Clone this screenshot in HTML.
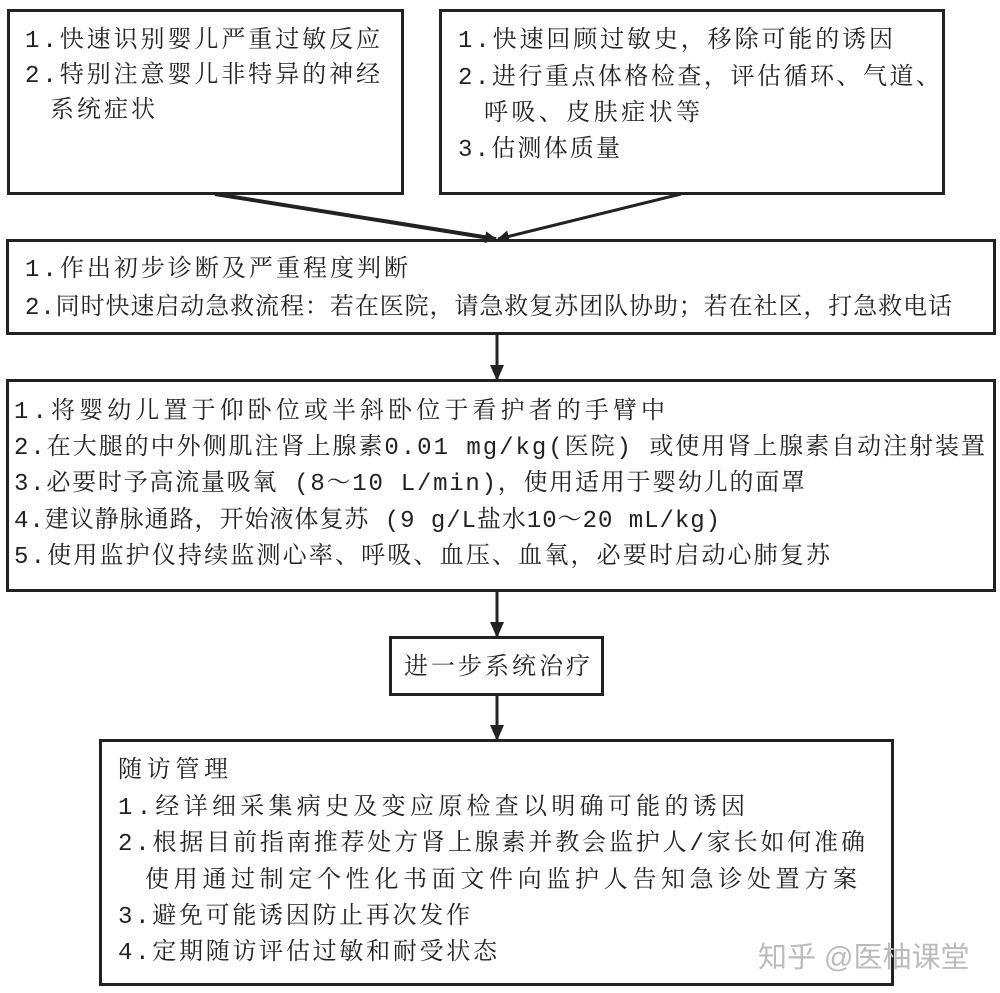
<!DOCTYPE html>
<html><head><meta charset="utf-8"><style>
body{margin:0;width:1000px;height:993px;background:#fff;position:relative;overflow:hidden;}
.b{position:absolute;border:3px solid #222;box-sizing:border-box;}
svg{position:absolute;left:0;top:0;}
text{font-family:"Liberation Mono","Noto Serif CJK SC",serif;font-size:24px;fill:#222;}
</style></head><body>
<div class="b" style="left:7px;top:9px;width:397px;height:186px"></div>
<div class="b" style="left:439px;top:9px;width:506px;height:186px"></div>
<div class="b" style="left:6px;top:239px;width:990px;height:96px"></div>
<div class="b" style="left:6px;top:379px;width:990px;height:213px"></div>
<div class="b" style="left:389px;top:636px;width:215px;height:60px"></div>
<div class="b" style="left:99px;top:739px;width:795px;height:247px"></div>

<svg width="1000" height="993">
<defs><marker id="a" markerWidth="12" markerHeight="12" refX="11" refY="6" orient="auto" markerUnits="userSpaceOnUse"><path d="M0,0 L12,6 L0,12 z" fill="#222"/></marker>
<marker id="v" markerWidth="16" markerHeight="16" refX="15" refY="8" orient="auto" markerUnits="userSpaceOnUse"><path d="M0,1 L16,8 L0,15 z" fill="#222"/></marker></defs>
<g lengthAdjust="spacing">
<text x="25" y="47" textLength="355" lengthAdjust="spacing">1.快速识别婴儿严重过敏反应</text>
<text x="25" y="82" textLength="355" lengthAdjust="spacing">2.特别注意婴儿非特异的神经</text>
<text x="50" y="117" textLength="105" lengthAdjust="spacing">系统症状</text>

<text x="458" y="47" textLength="435" lengthAdjust="spacing">1.快速回顾过敏史，移除可能的诱因</text>
<text x="458" y="84" textLength="482" lengthAdjust="spacing">2.进行重点体格检查，评估循环、气道、</text>
<text x="484" y="120" textLength="216" lengthAdjust="spacing">呼吸、皮肤症状等</text>
<text x="458" y="156" textLength="162" lengthAdjust="spacing">3.估测体质量</text>

<text x="25" y="276" textLength="383" lengthAdjust="spacing">1.作出初步诊断及严重程度判断</text>
<text x="25" y="314" textLength="927" lengthAdjust="spacing">2.同时快速启动急救流程：若在医院，请急救复苏团队协助；若在社区，打急救电话</text>

<text x="14" y="418" textLength="651" lengthAdjust="spacing">1.将婴幼儿置于仰卧位或半斜卧位于看护者的手臂中</text>
<text x="14" y="454" textLength="971" lengthAdjust="spacing">2.在大腿的中外侧肌注肾上腺素0.01 mg/kg(医院) 或使用肾上腺素自动注射装置</text>
<text x="14" y="490" textLength="791" lengthAdjust="spacing">3.必要时予高流量吸氧 (8～10 L/min)，使用适用于婴幼儿的面罩</text>
<text x="14" y="527" textLength="706" lengthAdjust="spacing">4.建议静脉通路，开始液体复苏 (9 g/L盐水10～20 mL/kg)</text>
<text x="14" y="563" textLength="816" lengthAdjust="spacing">5.使用监护仪持续监测心率、呼吸、血压、血氧，必要时启动心肺复苏</text>

<text x="404" y="674" textLength="186" lengthAdjust="spacing">进一步系统治疗</text>

<text x="118" y="777" textLength="110" lengthAdjust="spacing">随访管理</text>
<text x="118" y="814" textLength="627" lengthAdjust="spacing">1.经详细采集病史及变应原检查以明确可能的诱因</text>
<text x="118" y="850" textLength="747" lengthAdjust="spacing">2.根据目前指南推荐处方肾上腺素并教会监护人/家长如何准确</text>
<text x="145" y="887" textLength="712" lengthAdjust="spacing">使用通过制定个性化书面文件向监护人告知急诊处置方案</text>
<text x="118" y="923" textLength="352" lengthAdjust="spacing">3.避免可能诱因防止再次发作</text>
<text x="118" y="959" textLength="379" lengthAdjust="spacing">4.定期随访评估过敏和耐受状态</text>
</g>
<line x1="215" y1="194" x2="496" y2="239" stroke="#222" stroke-width="4" marker-end="url(#a)"/>
<line x1="681" y1="194" x2="498" y2="239" stroke="#222" stroke-width="3" marker-end="url(#a)"/>
<line x1="497" y1="335" x2="497" y2="380" stroke="#222" stroke-width="3" marker-end="url(#v)"/>
<line x1="497" y1="592" x2="497" y2="637" stroke="#222" stroke-width="3" marker-end="url(#v)"/>
<line x1="497" y1="696" x2="497" y2="740" stroke="#222" stroke-width="3" marker-end="url(#v)"/>
</svg>
<div style="position:absolute;left:758px;top:934px;font-family:'Liberation Sans','Noto Sans CJK SC',sans-serif;font-size:29px;color:#bbb;white-space:nowrap;">知乎 @医柚课堂</div>
</body></html>
